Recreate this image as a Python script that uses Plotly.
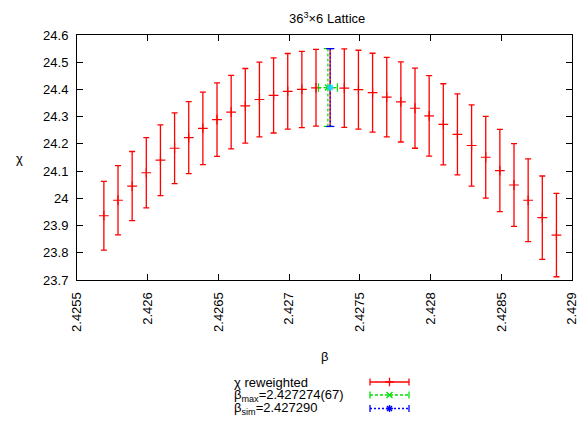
import plotly.graph_objects as go

# ---- data ----
beta = [2.42569, 2.42579, 2.42589, 2.42599, 2.42609, 2.42619, 2.42629, 2.42639,
        2.42649, 2.42659, 2.42669, 2.42679, 2.42689, 2.42699, 2.42709, 2.42719,
        2.42729, 2.42739, 2.42749, 2.42759, 2.42769, 2.42779, 2.42789, 2.42799,
        2.42809, 2.42819, 2.42829, 2.42839, 2.42849, 2.42859, 2.42869, 2.42879,
        2.42889]
chi = [23.936, 23.993, 24.045, 24.094, 24.140, 24.184, 24.223, 24.257,
       24.289, 24.317, 24.340, 24.363, 24.378, 24.393, 24.400, 24.406,
       24.407, 24.405, 24.399, 24.388, 24.372, 24.354, 24.331, 24.303,
       24.272, 24.235, 24.194, 24.151, 24.102, 24.049, 23.993, 23.929,
       23.865]
chi_err = [0.126, 0.127, 0.127, 0.129, 0.130, 0.130, 0.132, 0.133,
           0.135, 0.135, 0.137, 0.137, 0.138, 0.139, 0.140, 0.141,
           0.143, 0.144, 0.145, 0.145, 0.146, 0.147, 0.147, 0.148,
           0.149, 0.149, 0.149, 0.150, 0.151, 0.152, 0.152, 0.153,
           0.153]

beta_max = 2.427274
beta_max_err = 0.000067
chi_max = 24.407
chi_max_err = 0.143

beta_sim = 2.427290
chi_sim = 24.407
chi_sim_err = 0.143

x_ticks = [2.4255, 2.426, 2.4265, 2.427, 2.4275, 2.428, 2.4285, 2.429]
x_tick_labels = ["2.4255", "2.426", "2.4265", "2.427", "2.4275", "2.428", "2.4285", "2.429"]
y_ticks = [23.7, 23.8, 23.9, 24.0, 24.1, 24.2, 24.3, 24.4, 24.5, 24.6]
y_tick_labels = ["23.7", "23.8", "23.9", "24", "24.1", "24.2", "24.3", "24.4", "24.5", "24.6"]

legend_labels = ["χ reweighted", "β<sub>max</sub>=2.427274(67)", "β<sub>sim</sub>=2.427290"]

W, H = 577, 424
FONT = "Liberation Sans, Arial, sans-serif"
RED, GREEN, BLUE = "#ff0000", "#00e000", "#0000ff"

# plot area in pixels
PL, PR, PT, PB = 77, 572, 35, 280
EPS = 1e-9

fig = go.Figure()

# red reweighted series
fig.add_trace(go.Scatter(
    x=beta, y=chi, mode="markers",
    marker=dict(symbol="cross-thin", size=7, line=dict(color=RED, width=1.2), color=RED),
    error_y=dict(type="data", array=chi_err, visible=True, color=RED, thickness=1.3, width=3),
    showlegend=False, xaxis="x", yaxis="y"))

# green beta_max: dashed x/y error bars
fig.add_trace(go.Scatter(
    x=[beta_max, beta_max], y=[chi_max - chi_max_err, chi_max + chi_max_err],
    mode="lines+markers", line=dict(color=GREEN, width=1.2, dash="3px,2px"),
    marker=dict(symbol="line-ew-open", size=6, line=dict(color=GREEN, width=1.2)),
    showlegend=False))
fig.add_trace(go.Scatter(
    x=[beta_max - beta_max_err, beta_max + beta_max_err], y=[chi_max, chi_max],
    mode="lines+markers", line=dict(color=GREEN, width=1.2, dash="3px,2px"),
    marker=dict(symbol="line-ns-open", size=6, line=dict(color=GREEN, width=1.2)),
    showlegend=False))
fig.add_trace(go.Scatter(
    x=[beta_max], y=[chi_max], mode="markers",
    marker=dict(symbol="x-thin", size=6, line=dict(color=GREEN, width=1.3)),
    showlegend=False))

# blue beta_sim: dotted y error bar
fig.add_trace(go.Scatter(
    x=[beta_sim, beta_sim], y=[chi_sim - chi_sim_err, chi_sim + chi_sim_err],
    mode="lines+markers", line=dict(color=BLUE, width=1.2, dash="2px,2px"),
    marker=dict(symbol="line-ew-open", size=6, line=dict(color=BLUE, width=1.2)),
    showlegend=False))
fig.add_trace(go.Scatter(
    x=[beta_sim], y=[chi_sim], mode="markers",
    marker=dict(symbol="asterisk-open", size=6, line=dict(color=BLUE, width=1.4)),
    showlegend=False))

# ---- gnuplot-style key (text left, sample right) on a pixel overlay axis ----
key_y = [382, 395, 408.5]
key_colors = [RED, GREEN, BLUE]
key_dash = ["solid", "3px,2px", "2px,2px"]
key_sym = ["cross-thin", "x-thin", "asterisk-open"]
kx0, kx1 = 370, 409
for ky, c, d, s in zip(key_y, key_colors, key_dash, key_sym):
    fig.add_trace(go.Scatter(
        x=[kx0, kx1], y=[ky, ky], mode="lines+markers",
        line=dict(color=c, width=1.3, dash=d),
        marker=dict(symbol="line-ns-open", size=5, line=dict(color=c, width=1.3)),
        showlegend=False, xaxis="x2", yaxis="y2", hoverinfo="skip"))
    fig.add_trace(go.Scatter(
        x=[(kx0 + kx1) / 2], y=[ky], mode="markers",
        marker=dict(symbol=s, size=6, line=dict(color=c, width=1.3), color=c),
        showlegend=False, xaxis="x2", yaxis="y2", hoverinfo="skip"))

annotations = []
for ky, txt in zip(key_y, legend_labels):
    annotations.append(dict(
        x=232, y=ky, xref="x2", yref="y2", text=txt, showarrow=False,
        xanchor="left", yanchor="middle", font=dict(family=FONT, size=13, color="black")))

# title and axis titles
annotations.append(dict(x=(PL + PR) / 2 + 2, y=18, xref="x2", yref="y2",
                        text="36<sup>3</sup>×6 Lattice", showarrow=False,
                        xanchor="center", yanchor="middle",
                        font=dict(family=FONT, size=13, color="black")))
annotations.append(dict(x=(PL + PR) / 2, y=356, xref="x2", yref="y2", text="β",
                        showarrow=False, xanchor="center", yanchor="middle",
                        font=dict(family=FONT, size=13, color="black")))
annotations.append(dict(x=19, y=158, xref="x2", yref="y2", text="χ",
                        showarrow=False, xanchor="center", yanchor="middle",
                        font=dict(family=FONT, size=13, color="black")))

axis_common = dict(showline=True, linecolor="black", linewidth=1, mirror="allticks",
                   ticks="inside", ticklen=6, tickwidth=1, tickcolor="black",
                   showgrid=False, zeroline=False, ticklabeloverflow="allow",
                   tickfont=dict(family=FONT, size=13, color="black"))

fig.update_layout(
    width=W, height=H,
    margin=dict(l=0, r=0, t=0, b=0),
    paper_bgcolor="white", plot_bgcolor="rgba(0,0,0,0)",
    showlegend=False,
    xaxis=dict(domain=[PL / W, PR / W], range=[2.4255 - EPS, 2.429 + EPS], anchor="y",
               tickvals=x_ticks, ticktext=x_tick_labels, tickangle=-90,
               ticklabelstandoff=6, automargin=False, **axis_common),
    yaxis=dict(domain=[1 - PB / H, 1 - PT / H], range=[23.7 - EPS, 24.6 + EPS], anchor="x",
               tickvals=y_ticks, ticktext=y_tick_labels,
               ticklabelstandoff=5, automargin=False, **axis_common),
    xaxis2=dict(domain=[0, 1], range=[0, W], anchor="y2", visible=False, fixedrange=True),
    yaxis2=dict(domain=[0, 1], range=[H, 0], anchor="x2", visible=False, fixedrange=True),
    annotations=annotations,
)

fig.write_html("out.html")
